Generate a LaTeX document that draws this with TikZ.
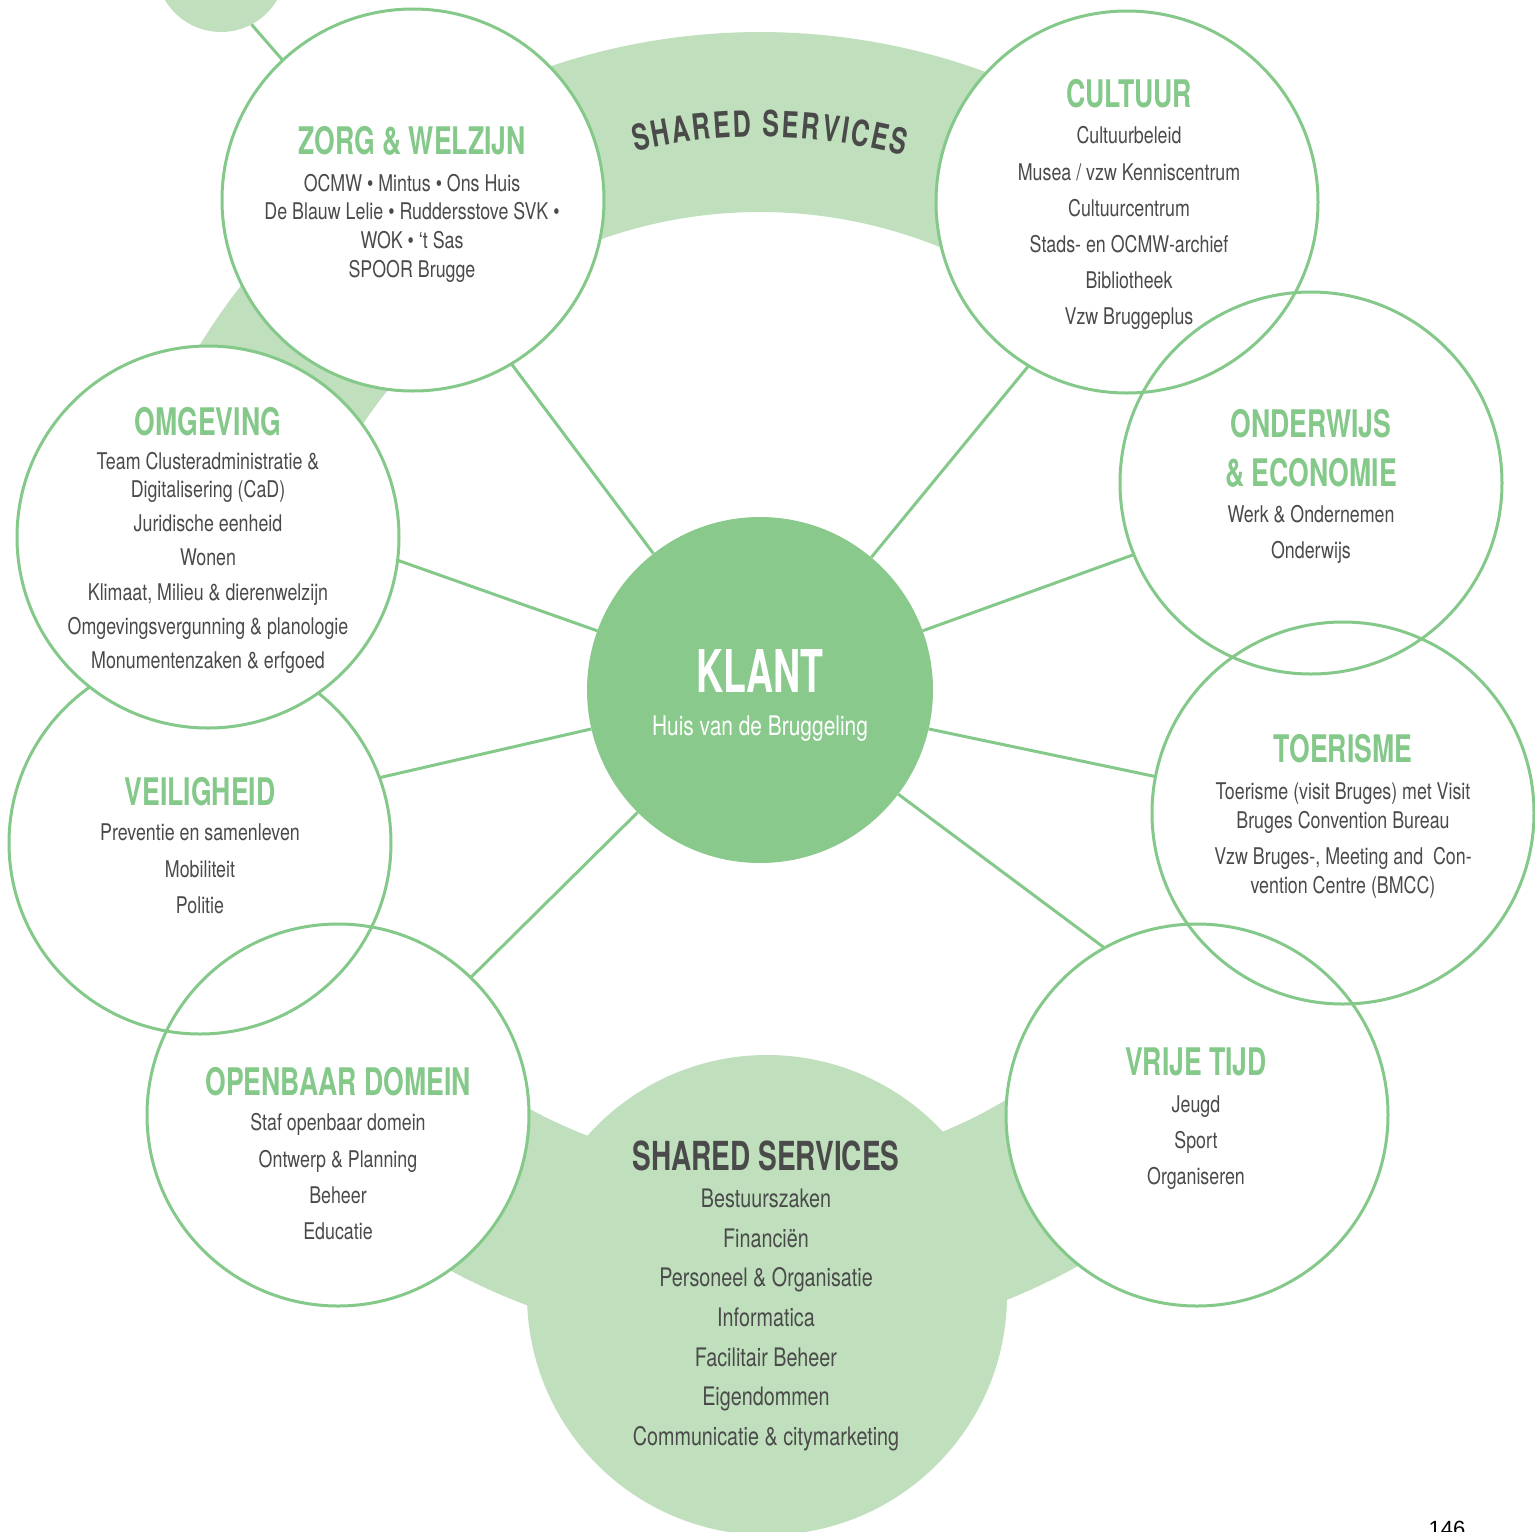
\documentclass[tikz,border=0pt]{standalone}
\usepackage{fontspec}
\setmainfont{TeX Gyre Heros}[FakeStretch=0.775]
\newfontfamily\headfont{TeX Gyre Heros}[FakeStretch=0.70]
\newfontfamily\klantfont{TeX Gyre Heros}[FakeStretch=0.635]
\newfontfamily\pagefont{Liberation Sans}
\usetikzlibrary{decorations.text}
\definecolor{ringcolor}{RGB}{132, 201, 138}
\definecolor{klantcolor}{RGB}{137, 201, 139}
\definecolor{bandcolor}{RGB}{192, 224, 189}
\definecolor{greytext}{RGB}{74, 74, 74}
\tikzset{
domaincircle/.style={
  circle,
  fill=white,
  minimum size=382pt,
  inner sep=0pt
},
ringline/.style={
  draw=ringcolor,
  line width=3pt
},
domaintitle/.style={
  anchor=base,
  inner sep=0pt,
  text=ringcolor,
  font=\headfont\bfseries\fontsize{38}{38}\selectfont
},
domainitem/.style={
  anchor=base,
  inner sep=0pt,
  text=greytext,
  font=\fontsize{23}{23}\selectfont
},
link/.style={
  draw=ringcolor,
  line width=3pt
}
}

\begin{document}
\begin{tikzpicture}[
    x=1pt, y=-1pt,
    klantbox/.style={
      circle, fill=klantcolor, minimum size=346pt, inner sep=0pt
    },
    sharedbox/.style={
      circle, fill=bandcolor, minimum size=480pt, inner sep=0pt
    },
    sharedtitle/.style={
      domaintitle, text=greytext,
      font=\headfont\bfseries\fontsize{40}{40}\selectfont
    },
    shareditem/.style={
      domainitem, font=\fontsize{25.5}{25.5}\selectfont
    }
  ]
    \useasboundingbox (0,0) rectangle (1535,1532);
    \coordinate (ctr) at (760,690);

    % Shared services ring
    \fill[bandcolor] ([shift={(195.5:658)}]ctr) arc[start angle=195.5, end angle=307, radius=658]
      -- ([shift={(307:478)}]ctr) arc[start angle=307, end angle=195.5, radius=478] -- cycle;
    \fill[bandcolor] ([shift={(44.2:658)}]ctr) arc[start angle=44.2, end angle=135.2, radius=658]
      -- ([shift={(135.2:478)}]ctr) arc[start angle=135.2, end angle=44.2, radius=478] -- cycle;
    \node[sharedbox] (shared) at (767,1295) {};
    \node[sharedbox, minimum size=130pt] (corner) at (221,-33) {};

    % Center
    \node[klantbox] (klant) at (ctr) {};

    % Domains
    \node[domaincircle] (zorg) at (413,200) {};
    \node[domaincircle] (cultuur) at (1127,202) {};
    \node[domaincircle] (onderwijs) at (1311,483) {};
    \node[domaincircle] (toerisme) at (1343,813) {};
    \node[domaincircle] (vrijetijd) at (1197,1115) {};
    \node[domaincircle] (openbaar) at (338,1115) {};
    \node[domaincircle] (veiligheid) at (200,843) {};
    \foreach \n in {zorg,cultuur,onderwijs,toerisme,vrijetijd,openbaar,veiligheid}
      \draw[ringline] (\n.center) circle[radius=191];
    % omgeving lies over veiligheid
    \node[domaincircle] (omgeving) at (208,537) {};
    \draw[ringline] (omgeving.center) circle[radius=191];

    % Links
    \draw[link] (klant.128) -- (zorg.-59.3);
    \draw[link] (klant.50.7) -- (cultuur.-121.5);
    \draw[link] (klant.20.3) -- (onderwijs.-158.6);
    \draw[link] (klant.-13) -- (toerisme.169.5);
    \draw[link] (klant.-37.1) -- (vrijetijd.119.5);
    \draw[link] (klant.-135.4) -- (openbaar.46.3);
    \draw[link] (klant.-167.3) -- (veiligheid.20.5);
    \draw[link] (klant.160.4) -- (omgeving.-7.4);
    \draw[link] (corner.-62.2) -- (zorg.133.3);

    % Klant
    \node[anchor=base, inner sep=0pt, text=white,
      font=\klantfont\bfseries\fontsize{59}{59}\selectfont] (klant-t) at (760,692) {KLANT};
    \node[anchor=base, inner sep=0pt, text=white,
      font=\fontsize{27}{27}\selectfont] (klant-s) at (760,735) {Huis van de Bruggeling};

    % Zorg & Welzijn
    \node[domaintitle] (zorg-t) at (412,154) {ZORG \& WELZIJN};
    \foreach \y/\t [count=\i] in {191/{OCMW • Mintus • Ons Huis}, 219/{De Blauw Lelie • Ruddersstove SVK •},
        248/{WOK • ‘t Sas}, 277/{SPOOR Brugge}}
      \node[domainitem] (zorg-\i) at (412,\y) {\t};

    % Cultuur
    \node[domaintitle] (cultuur-t) at (1129,107) {CULTUUR};
    \foreach \y/\t [count=\i] in {143/{Cultuurbeleid}, 180/{Musea / vzw Kenniscentrum}, 216/{Cultuurcentrum},
        252/{Stads- en OCMW-archief}, 288/{Bibliotheek}, 324/{Vzw Bruggeplus}}
      \node[domainitem] (cultuur-\i) at (1129,\y) {\t};

    % Onderwijs & Economie
    \node[domaintitle] (onderwijs-t) at (1311,437) {ONDERWIJS};
    \node[domaintitle] (onderwijs-t2) at (1311,486) {\& ECONOMIE};
    \foreach \y/\t [count=\i] in {522/{Werk \& Ondernemen}, 558/{Onderwijs}}
      \node[domainitem] (onderwijs-\i) at (1311,\y) {\t};

    % Toerisme
    \node[domaintitle] (toerisme-t) at (1343,762) {TOERISME};
    \foreach \y/\t [count=\i] in {799/{Toerisme (visit Bruges) met Visit}, 828/{Bruges Convention Bureau},
        864/{Vzw Bruges-, Meeting and\ \ Con-}, 893/{vention Centre (BMCC)}}
      \node[domainitem] (toerisme-\i) at (1343,\y) {\t};

    % Vrije tijd
    \node[domaintitle] (vrijetijd-t) at (1196,1075) {VRIJE TIJD};
    \foreach \y/\t [count=\i] in {1112/{Jeugd}, 1148/{Sport}, 1184/{Organiseren}}
      \node[domainitem] (vrijetijd-\i) at (1196,\y) {\t};

    % Openbaar domein
    \node[domaintitle] (openbaar-t) at (338,1095) {OPENBAAR DOMEIN};
    \foreach \y/\t [count=\i] in {1130/{Staf openbaar domein}, 1167/{Ontwerp \& Planning}, 1203/{Beheer},
        1239/{Educatie}}
      \node[domainitem] (openbaar-\i) at (338,\y) {\t};

    % Veiligheid
    \node[domaintitle] (veiligheid-t) at (200,805) {VEILIGHEID};
    \foreach \y/\t [count=\i] in {840/{Preventie en samenleven}, 877/{Mobiliteit}, 913/{Politie}}
      \node[domainitem] (veiligheid-\i) at (200,\y) {\t};

    % Omgeving
    \node[domaintitle] (omgeving-t) at (208,435) {OMGEVING};
    \foreach \y/\t [count=\i] in {469/{Team Clusteradministratie \&}, 497/{Digitalisering (CaD)},
        531/{Juridische eenheid}, 565/{Wonen}, 600/{Klimaat, Milieu \& dierenwelzijn},
        634/{Omgevingsvergunning \& planologie}, 668/{Monumentenzaken \& erfgoed}}
      \node[domainitem] (omgeving-\i) at (208,\y) {\t};

    % Shared services
    \node[sharedtitle] (shared-t) at (766,1170) {SHARED SERVICES};
    \foreach \y/\t [count=\i] in {1207/{Bestuurszaken}, 1247/{Financiën}, 1286/{Personeel \& Organisatie},
        1326/{Informatica}, 1366/{Facilitair Beheer}, 1405/{Eigendommen},
        1445/{Communicatie \& citymarketing}}
      \node[shareditem] (shared-\i) at (766,\y) {\t};
    \path[decorate, decoration={text along path, text align=center,
        text={|\headfont\bfseries\fontsize{36}{36}\selectfont\color{greytext}\kern2.2pt|SHARED SERVICES}}]
      ([shift={(200:553)}]ctr) arc[start angle=200, end angle=341.8, radius=553];

    % Page number
    \node[anchor=base, inner sep=0pt, font=\pagefont\fontsize{22}{22}\selectfont] (page) at (1447,1536) {146};
  \end{tikzpicture}
\end{document}
